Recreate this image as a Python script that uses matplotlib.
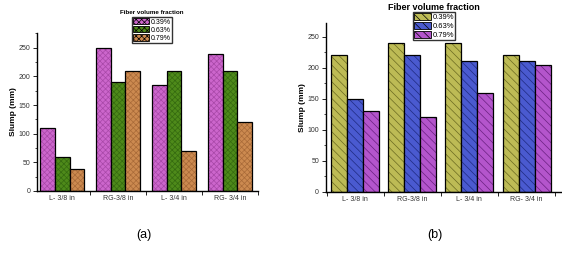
import matplotlib
matplotlib.use("Agg")
import matplotlib.pyplot as plt
import numpy as np
from matplotlib.ticker import MultipleLocator, FixedLocator
from matplotlib.patches import Patch

plt.rcParams['font.family'] = ['Liberation Sans', 'DejaVu Sans']
plt.rcParams['hatch.linewidth'] = 0.5

categories = ["L- 3/8 in", "RG-3/8 in", "L- 3/4 in", "RG- 3/4 in"]
series_names = ["0.39%", "0.63%", "0.79%"]
series_names_b = ["0.39%", "0.63%", "0.79%"]

a_039 = [110, 250, 185, 240]
a_063 = [60, 190, 210, 210]
a_079 = [39, 210, 69, 120]

b_039 = [220, 240, 240, 220]
b_063 = [150, 220, 210, 210]
b_079 = [130, 120, 160, 205]

colors_a = ["#CC66CC", "#4E8A1A", "#CC8A50"]
hatchc_a = ["#A848A8", "#356A10", "#A86A38"]
colors_b = ["#BDBB55", "#4A5AD0", "#B455CC"]
hatchc_b = ["#6A6A20", "#1E2A80", "#6A2080"]


def panel(ax, data, names, colors, hcolors, hatch, width, ylim, xlim):
    x = np.arange(len(categories))
    n = len(data)
    for i, (vals, c, hc) in enumerate(zip(data, colors, hcolors)):
        pos = x + (i - (n - 1) / 2) * width
        ax.bar(pos, vals, width, color=c, edgecolor=hc, hatch=hatch, linewidth=0)
        ax.bar(pos, vals, width, facecolor='none', edgecolor='black', linewidth=0.9)
    ax.set_xlim(*xlim)
    ax.set_ylim(*ylim)
    ax.spines['top'].set_visible(False)
    ax.spines['right'].set_visible(False)
    ax.spines['left'].set_linewidth(1.0)
    ax.spines['bottom'].set_linewidth(1.0)
    ax.set_xticks(x)
    ax.set_xticklabels(categories, fontsize=5, color='#333333')
    ax.tick_params(axis='x', length=0, pad=3)
    bounds = list(np.arange(-0.5, len(categories), 1.0))
    ax.xaxis.set_minor_locator(FixedLocator(bounds))
    ax.tick_params(axis='x', which='minor', length=3, width=0.6)
    ax.yaxis.set_major_locator(MultipleLocator(50))
    ax.yaxis.set_minor_locator(MultipleLocator(25))
    ax.tick_params(axis='y', labelsize=5, length=3, width=0.6, labelcolor='#333333', pad=2)
    ax.tick_params(axis='y', which='minor', length=1.5, width=0.5)
    ax.set_ylabel("Slump (mm)", fontsize=6, fontweight='bold', labelpad=1)


fig = plt.figure(figsize=(5.62, 2.57), dpi=100)
ax1 = fig.add_axes([0.066, 0.257, 0.393, 0.615])
ax2 = fig.add_axes([0.580, 0.253, 0.418, 0.658])

panel(ax1, [a_039, a_063, a_079], series_names, colors_a, hatchc_a, 'xxxxxx', 0.26, (0, 276), (-0.45, 3.5))
panel(ax2, [b_039, b_063, b_079], series_names_b, colors_b, hatchc_b, '\\\\\\\\', 0.28, (0, 272), (-0.51, 3.6))

for ax, names, colors, hcolors, hatch, anchor, fs in [
    (ax1, series_names, colors_a, hatchc_a, 'xxxxxx', (152 / 562, 1 - 17 / 257), 5),
    (ax2, series_names_b, colors_b, hatchc_b, '\\\\\\\\', (434 / 562, 1 - 12 / 257), 5.5)]:
    handles = [Patch(facecolor=c, edgecolor='black', hatch=hatch, linewidth=0.6) for c in colors]
    leg = fig.legend(handles, names, loc='upper center', bbox_to_anchor=anchor,
                     bbox_transform=fig.transFigure, fontsize=fs, frameon=True,
                     fancybox=False, edgecolor='black', handlelength=2.2, handleheight=1.0,
                     handletextpad=0.3, borderpad=0.15, labelspacing=0.1, borderaxespad=0)
    leg.get_frame().set_linewidth(1.0)

fig.text(152 / 562, 1 - 12 / 257, "Fiber volume fraction", fontsize=4.5, fontweight='bold', ha='center', va='center')
fig.text(434 / 562, 1 - 7 / 257, "Fiber volume fraction", fontsize=6.5, fontweight='bold', ha='center', va='center')

fig.text(144 / 562, 1 - 235 / 257, "(a)", fontsize=9, ha='center', va='center')
fig.text(435 / 562, 1 - 235 / 257, "(b)", fontsize=9, ha='center', va='center')

fig.savefig("out.png", dpi=100)
